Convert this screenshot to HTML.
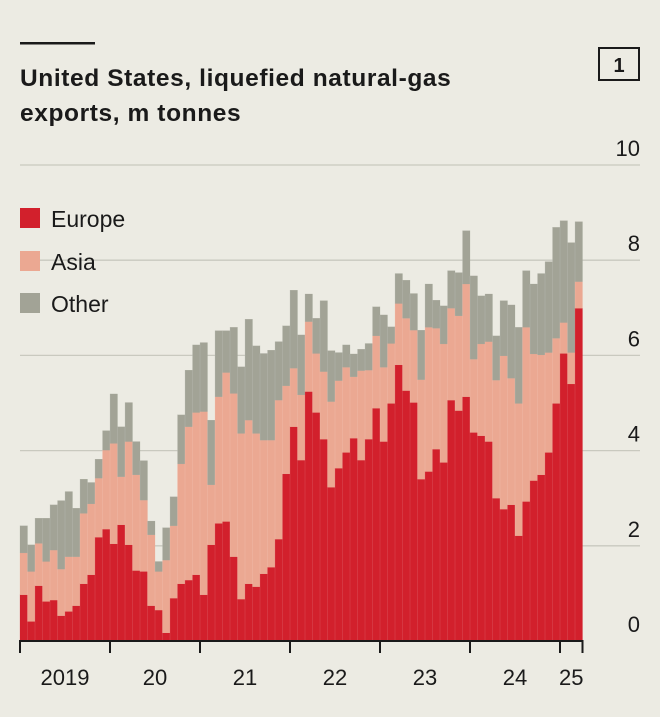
<!DOCTYPE html>
<html><head><meta charset="utf-8">
<style>
html,body{margin:0;padding:0;background:#ecebe3;}
body{width:660px;height:712px;overflow:hidden;font-family:"Liberation Sans",sans-serif;}
</style></head>
<body>
<svg id="chart" width="660" height="712" xmlns="http://www.w3.org/2000/svg">
<rect x="0" y="0" width="660" height="712" fill="#ecebe3"/>
<rect x="20" y="42" width="75" height="2.5" fill="#1a1a1a"/>
<text x="20" y="86" font-size="24.5" font-weight="bold" letter-spacing="0.6" fill="#1a1a1a">United States, liquefied natural-gas</text>
<text x="20" y="121" font-size="24.5" font-weight="bold" letter-spacing="0.6" fill="#1a1a1a">exports, m tonnes</text>
<g>
<rect x="599" y="48" width="40" height="32" fill="none" stroke="#1a1a1a" stroke-width="2"/>
<text x="619" y="72" font-size="20" font-weight="bold" text-anchor="middle" fill="#1a1a1a">1</text>
</g>
<g id="grid"></g>
<g id="bars"></g>
<g id="axes"></g>
<g>
<rect x="20" y="208" width="20" height="20" fill="#d2202c"/>
<text x="51" y="227" font-size="23" fill="#1a1a1a">Europe</text>
<rect x="20" y="251" width="20" height="20" fill="#eba892"/>
<text x="51" y="270" font-size="23" fill="#1a1a1a">Asia</text>
<rect x="20" y="293" width="20" height="20" fill="#a2a396"/>
<text x="51" y="312" font-size="23" fill="#1a1a1a">Other</text>
</g>
</svg>
<script>
const europe=[0.97,0.41,1.16,0.83,0.86,0.53,0.62,0.74,1.20,1.39,2.18,2.35,2.04,2.44,2.02,1.48,1.46,0.74,0.65,0.17,0.90,1.20,1.28,1.39,0.97,2.02,2.47,2.51,1.77,0.88,1.20,1.14,1.41,1.55,2.14,3.51,4.50,3.80,5.24,4.80,4.24,3.23,3.63,3.96,4.26,3.80,4.24,4.89,4.19,4.99,5.80,5.26,5.01,3.40,3.56,4.03,3.75,5.06,4.84,5.13,4.38,4.31,4.19,3.00,2.77,2.86,2.21,2.93,3.37,3.49,3.96,4.99,6.04,5.40,6.99];
const asia=[0.88,1.05,0.89,0.84,1.05,0.98,1.15,1.03,1.48,1.49,1.24,1.66,2.11,1.01,2.17,2.01,1.50,1.49,0.81,1.53,1.52,2.52,3.22,3.41,3.85,1.26,2.66,3.13,3.43,3.48,3.44,3.22,2.81,2.67,2.92,1.85,1.23,1.37,1.47,1.24,1.42,1.80,1.84,1.79,1.29,1.88,1.45,1.52,1.56,1.26,1.29,1.52,1.52,2.09,3.03,2.54,2.49,1.93,1.99,2.37,1.54,1.93,2.10,2.48,3.22,2.66,2.78,3.66,2.66,2.52,2.10,1.37,0.65,0.66,0.56];
const other=[0.57,0.56,0.53,0.91,0.95,1.44,1.37,1.02,0.72,0.45,0.40,0.41,1.04,1.05,0.82,0.70,0.83,0.29,0.21,0.68,0.61,1.03,1.19,1.42,1.45,1.36,1.39,0.88,1.39,1.40,2.12,1.84,1.82,1.89,1.23,1.26,1.64,1.26,0.58,0.74,1.49,1.07,0.59,0.47,0.48,0.45,0.56,0.61,1.10,0.35,0.63,0.80,0.77,1.04,0.91,0.59,0.80,0.79,0.91,1.12,1.75,1.01,1.00,0.93,1.16,1.54,1.60,1.19,1.47,1.71,1.91,2.33,2.14,2.31,1.26];
const yTicks=[0,2,4,6,8,10];
const yearLabels=["2019","20","21","22","23","24","25"];
const startYear=2019, startMonth=0;

const NS="http://www.w3.org/2000/svg";
const X0=20, MW=7.5, Y0=641, YS=47.6;
function x(i){return X0+i*MW;}
function y(v){return Y0-v*YS;}
function mk(tag,attrs,parent){const e=document.createElementNS(NS,tag);for(const k in attrs)e.setAttribute(k,attrs[k]);parent.appendChild(e);return e;}

const grid=document.getElementById('grid');
yTicks.forEach(t=>{
  if(t>0){
    const l=mk('line',{x1:20,x2:640,y1:y(t),y2:y(t),stroke:'#c9c9bf','stroke-width':1.3},grid);
    
    
  }
  const tx=mk('text',{x:640,y:y(t)-9,'font-size':22,'text-anchor':'end',fill:'#1a1a1a'},grid);
  tx.textContent=t;
  
  
});

const bars=document.getElementById('bars');
const cols=['#d2202c','#eba892','#a2a396'];
const names=['europe','asia','other'];
for(let i=0;i<europe.length;i++){
  const vals=[europe[i],asia[i],other[i]];
  let base=0;
  vals.forEach((v,s)=>{
    const r=mk('rect',{x:x(i),y:y(base+v),width:MW,height:v*YS,fill:cols[s],stroke:cols[s],'stroke-width':0.2},bars);
    
    
    base+=v;
  });
  if(i>0){
    const sep=mk('line',{x1:x(i),x2:x(i),y1:y(base),y2:Y0,stroke:'#ffffff','stroke-opacity':0.18,'stroke-width':0.6},bars);
    
    
  }
}

const axes=document.getElementById('axes');
const n=europe.length;
const base=mk('line',{x1:19,x2:x(n)+1,y1:Y0,y2:Y0,stroke:'#1a1a1a','stroke-width':2},axes);


for(let k=0;k<yearLabels.length;k++){
  const i0=k*12-startMonth;
  const tk=mk('line',{x1:x(i0),x2:x(i0),y1:Y0,y2:Y0+12,stroke:'#1a1a1a','stroke-width':2},axes);
  
  
  const i1=Math.min(i0+12,n);
  const tx=mk('text',{x:(x(i0)+x(i1))/2,y:685,'font-size':22,'text-anchor':'middle',fill:'#1a1a1a'},axes);
  tx.textContent=yearLabels[k];
  
  
}
const endTk=mk('line',{x1:x(n),x2:x(n),y1:Y0,y2:Y0+12,stroke:'#1a1a1a','stroke-width':2},axes);


</script>
</body></html>
